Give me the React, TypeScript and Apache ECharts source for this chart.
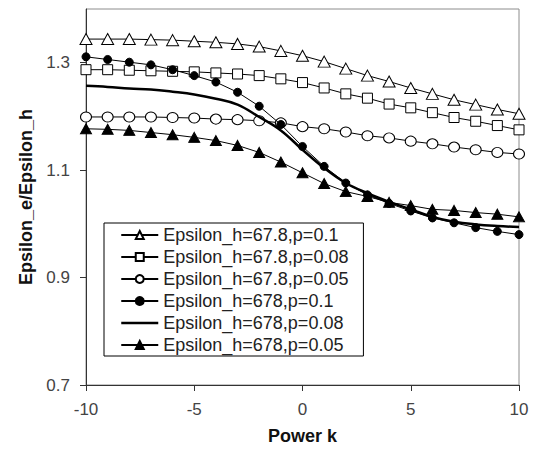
import React, { useEffect, useRef } from "react";
import * as echarts from "echarts";

const kValues = [-10, -9, -8, -7, -6, -5, -4, -3, -2, -1, 0, 1, 2, 3, 4, 5, 6, 7, 8, 9, 10];

const seriesNames = [
  "Epsilon_h=67.8,p=0.1",
  "Epsilon_h=67.8,p=0.08",
  "Epsilon_h=67.8,p=0.05",
  "Epsilon_h=678,p=0.1",
  "Epsilon_h=678,p=0.08",
  "Epsilon_h=678,p=0.05",
];

const h678p01Open = [1.344, 1.344, 1.344, 1.343, 1.342, 1.340, 1.338, 1.335, 1.330, 1.322, 1.313, 1.302, 1.289, 1.276, 1.265, 1.253, 1.242, 1.231, 1.222, 1.213, 1.205];
const h678p008Open = [1.287, 1.287, 1.286, 1.285, 1.284, 1.283, 1.281, 1.279, 1.276, 1.270, 1.263, 1.253, 1.242, 1.234, 1.223, 1.216, 1.207, 1.198, 1.191, 1.183, 1.175];
const h678p005Open = [1.199, 1.199, 1.199, 1.199, 1.198, 1.197, 1.195, 1.194, 1.192, 1.188, 1.181, 1.177, 1.171, 1.164, 1.160, 1.154, 1.149, 1.143, 1.138, 1.133, 1.130];
const h678p01 = [1.311, 1.306, 1.301, 1.296, 1.287, 1.276, 1.264, 1.245, 1.219, 1.185, 1.144, 1.107, 1.076, 1.054, 1.038, 1.024, 1.011, 1.002, 0.993, 0.986, 0.980];
const h678p008 = [1.257, 1.255, 1.252, 1.250, 1.246, 1.241, 1.233, 1.222, 1.199, 1.174, 1.138, 1.104, 1.076, 1.057, 1.041, 1.027, 1.013, 1.004, 0.999, 0.996, 0.994];
const h678p005 = [1.177, 1.176, 1.174, 1.170, 1.166, 1.161, 1.155, 1.146, 1.133, 1.115, 1.095, 1.075, 1.060, 1.051, 1.040, 1.034, 1.027, 1.025, 1.021, 1.018, 1.013];

const yTickValues = [0.7, 0.9, 1.1, 1.3];
const xTickValues = [-10, -5, 0, 5, 10];

const FONT = "Arial, 'Liberation Sans', sans-serif";

const pairs = (ys: number[]) => kValues.map((k, i) => [k, ys[i]]);

export default function App() {
  const ref = useRef<HTMLDivElement>(null);
  useEffect(() => {
    document.body.style.margin = "0";
    const chart = echarts.init(ref.current!, undefined, { renderer: "svg" });
    const openStyle = { color: "#ffffff", borderColor: "#000000", borderWidth: 1 };
    const filledStyle = { color: "#000000", borderColor: "#000000", borderWidth: 1 };
    const thin = { color: "#000000", width: 1 };
    chart.setOption({
      animation: false,
      backgroundColor: "#ffffff",
      grid: {
        left: 86,
        right: 18,
        top: 9,
        bottom: 63,
        show: true,
        borderColor: "#8c8c8c",
        borderWidth: 1,
        backgroundColor: "transparent",
      },
      legend: {
        orient: "vertical",
        left: 104,
        top: 223,
        backgroundColor: "#ffffff",
        borderColor: "#000000",
        borderWidth: 1,
        borderRadius: 0,
        padding: [3, 15, 2, 16],
        itemWidth: 37,
        itemHeight: 10,
        itemGap: 4,
        textStyle: { fontFamily: FONT, fontSize: 18, lineHeight: 18, color: "#222222" },
        data: seriesNames.map((n, i) =>
          i === 4
            ? {
                name: n,
                itemStyle: { color: "rgba(0,0,0,0)", borderWidth: 0, opacity: 0 },
                lineStyle: { color: "#000000", width: 2.5 },
              }
            : { name: n }
        ),
      },
      xAxis: {
        type: "value",
        min: -10,
        max: 10,
        interval: 5,
        name: "Power k",
        nameLocation: "middle",
        nameGap: 42,
        nameTextStyle: { fontFamily: FONT, fontSize: 18, fontWeight: "bold", color: "#111111" },
        axisLine: { show: true, onZero: false, lineStyle: { color: "#333333", width: 1 } },
        axisTick: { show: true, inside: false, length: 6, lineStyle: { color: "#333333" }, customValues: xTickValues },
        axisLabel: { margin: 16, fontFamily: FONT, fontSize: 17, color: "#444444", customValues: xTickValues },
        splitLine: { show: false },
      },
      yAxis: {
        type: "value",
        min: 0.7,
        max: 1.4,
        interval: 0.1,
        name: "Epsilon_e/Epsilon_h",
        nameLocation: "middle",
        nameGap: 49,
        nameTextStyle: { fontFamily: FONT, fontSize: 18, fontWeight: "bold", color: "#111111" },
        axisLine: { show: true, onZero: false, lineStyle: { color: "#333333", width: 1 } },
        axisTick: { show: true, inside: false, length: 6, lineStyle: { color: "#333333" }, customValues: yTickValues },
        axisLabel: {
          margin: 16,
          fontFamily: FONT,
          fontSize: 17,
          color: "#444444",
          customValues: yTickValues,
          formatter: (v: number) => v.toFixed(1),
        },
        splitLine: { show: false },
      },
      series: [
        {
          name: seriesNames[0],
          type: "line",
          data: pairs(h678p01Open),
          symbol: "triangle",
          symbolSize: [12, 11],
          showAllSymbol: true,
          itemStyle: openStyle,
          lineStyle: thin,
          z: 3,
        },
        {
          name: seriesNames[1],
          type: "line",
          data: pairs(h678p008Open),
          symbol: "rect",
          symbolSize: 10,
          showAllSymbol: true,
          itemStyle: openStyle,
          lineStyle: thin,
          z: 3,
        },
        {
          name: seriesNames[2],
          type: "line",
          data: pairs(h678p005Open),
          symbol: "circle",
          symbolSize: [11, 10],
          showAllSymbol: true,
          itemStyle: openStyle,
          lineStyle: thin,
          z: 3,
        },
        {
          name: seriesNames[3],
          type: "line",
          data: pairs(h678p01),
          symbol: "circle",
          symbolSize: 8,
          showAllSymbol: true,
          itemStyle: filledStyle,
          lineStyle: thin,
          z: 4,
        },
        {
          name: seriesNames[4],
          type: "line",
          data: pairs(h678p008),
          symbol: "none",
          smooth: 0.4,
          itemStyle: { color: "#000000" },
          lineStyle: { color: "#000000", width: 2.5 },
          z: 4,
        },
        {
          name: seriesNames[5],
          type: "line",
          data: pairs(h678p005),
          symbol: "triangle",
          symbolSize: [11, 10],
          showAllSymbol: true,
          itemStyle: filledStyle,
          lineStyle: thin,
          z: 4,
        },
      ],
    });
    return () => chart.dispose();
  }, []);
  return <div ref={ref} style={{ width: 537, height: 450, position: "absolute", left: 0, top: 0 }} />;
}
